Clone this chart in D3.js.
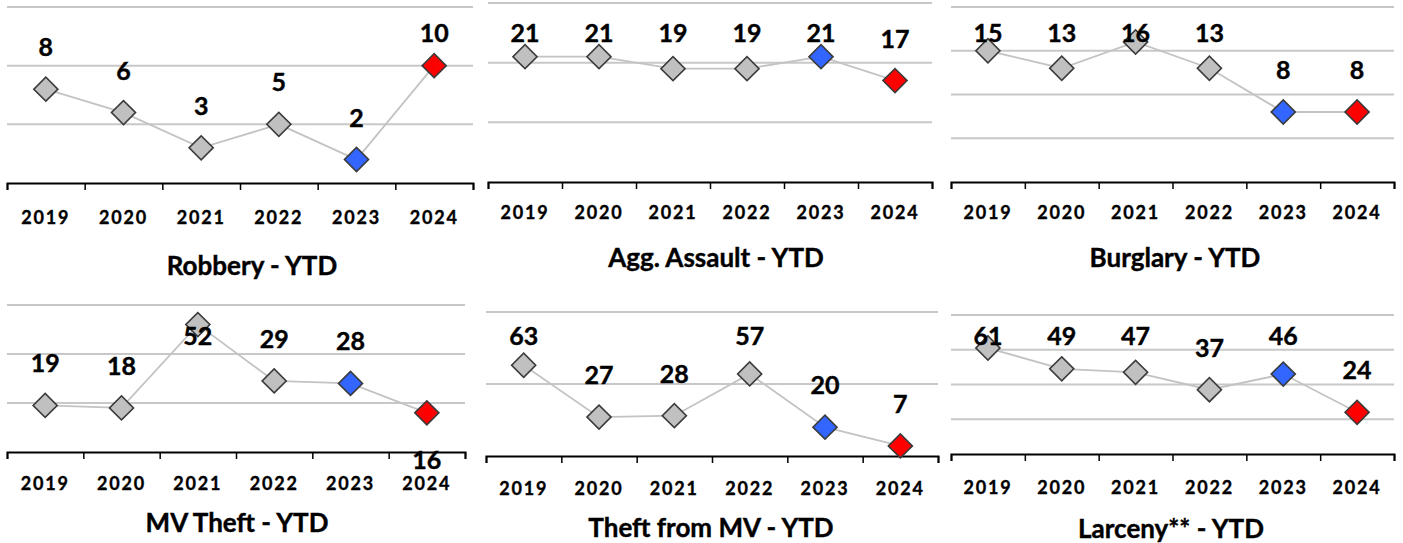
<!DOCTYPE html>
<html>
<head>
<meta charset="utf-8">
<script src="https://cdn.jsdelivr.net/npm/d3@7"></script>
<style>
  html, body { margin: 0; padding: 0; background: #fff; }
  svg { display: block; }
  .year { font-family: Lato, "Open Sans", sans-serif; font-weight: 700; font-size: 18px; letter-spacing: 1.8px; stroke: #000; stroke-width: 0.35px; }
  .val { font-family: Lato, "Open Sans", sans-serif; font-weight: 700; font-size: 25px; stroke: #000; stroke-width: 0.4px; }
  .title { font-family: Lato, "Open Sans", sans-serif; font-weight: 700; font-size: 26px; stroke: #000; stroke-width: 0.4px; }
</style>
</head>
<body>
<script>
(function () {
  'use strict';

  var years = ['2019', '2020', '2021', '2022', '2023', '2024'];

  var titles = ['Robbery - YTD', 'Agg. Assault - YTD', 'Burglary - YTD',
    'MV Theft - YTD', 'Theft from MV - YTD', 'Larceny** - YTD'];

  var robbery = [8, 6, 3, 5, 2, 10];
  var aggAssault = [21, 21, 19, 19, 21, 17];
  var burglary = [15, 13, 16, 13, 8, 8];
  var mvTheft = [19, 18, 52, 29, 28, 16];
  var theftFromMv = [63, 27, 28, 57, 20, 7];
  var larceny = [61, 49, 47, 37, 46, 24];

  var yMax = [15, 30, 20, 60, 100, 80];
  var yStep = [5, 10, 5, 20, 50, 20];

  var series = [robbery, aggAssault, burglary, mvTheft, theftFromMv, larceny];

  // panel frames (plot area in page pixels)
  var frames = [
    { x0: 7, x1: 473, top: 7, axis: 183, yearDy: 35, titleX: 252, titleY: 265, labelMin: 32 },
    { x0: 488, x1: 932, top: 3, axis: 182, yearDy: 31, titleX: 716, titleY: 257, labelMin: 32 },
    { x0: 951, x1: 1394, top: 7, axis: 182, yearDy: 31, titleX: 1175, titleY: 257, labelMin: 32 },
    { x0: 7, x1: 465, top: 305, axis: 452, yearDy: 32, titleX: 237, titleY: 522, labelMin: 335 },
    { x0: 486, x1: 938, top: 312, axis: 456, yearDy: 33, titleX: 711, titleY: 527, labelMin: 335 },
    { x0: 951, x1: 1394, top: 315, axis: 454, yearDy: 34, titleX: 1171, titleY: 528, labelMin: 335 }
  ];

  var svgEl = d3.select('body')
    .append('svg')
    .attr('width', 1403)
    .attr('height', 543);

  var diamond = d3.symbol().type(d3.symbolSquare).size(290);

  series.forEach(function (vals, i) {
    drawPanel(vals, i);
  });

  function drawPanel(vals, i) {
    var f = frames[i],
      g = svgEl.append('g'),
      data = vals.map(function (v, j) {
        return { year: years[j], value: v, idx: j };
      });

    var x = d3.scaleBand()
      .domain(years)
      .range([f.x0, f.x1]);

    var y = d3.scaleLinear()
      .domain([0, yMax[i]])
      .range([f.axis, f.top]);

    var edges = d3.scaleLinear()
      .domain([0, years.length])
      .range([f.x0, f.x1]);

    // gridlines
    g.append('g')
      .selectAll('line')
      .data(d3.range(yStep[i], yMax[i] + 0.001, yStep[i]))
      .enter()
      .append('line')
      .attr('x1', f.x0)
      .attr('x2', f.x1)
      .attr('y1', function (d) { return y(d); })
      .attr('y2', function (d) { return y(d); })
      .attr('stroke', '#c8c8c8')
      .attr('stroke-width', 2);

    // axis with ticks on category edges
    var ax = g.append('g')
      .attr('transform', 'translate(0,' + f.axis + ')')
      .call(d3.axisBottom(edges)
        .tickValues(d3.range(0, years.length + 1))
        .tickFormat('')
        .tickSize(7)
        .tickSizeOuter(7));
    ax.select('.domain').attr('stroke', '#000').attr('stroke-width', 2);
    ax.selectAll('.tick line').attr('stroke', '#000').attr('stroke-width', 1.5);

    // year labels
    g.append('g')
      .attr('transform', 'translate(0,' + f.axis + ')')
      .call(d3.axisBottom(x).tickSize(0).tickPadding(0))
      .call(function (s) {
        s.select('.domain').remove();
        s.attr('font-size', null).attr('font-family', null);
        s.selectAll('.tick text')
          .attr('class', 'year')
          .attr('fill', '#000')
          .attr('y', f.yearDy)
          .attr('dy', '0.35em');
      });

    // connecting line
    var line = d3.line()
      .x(function (d) { return x(d.year) + x.bandwidth() / 2; })
      .y(function (d) { return y(d.value); });

    g.append('path')
      .datum(data)
      .attr('d', line)
      .attr('fill', 'none')
      .attr('stroke', '#c3c3c3')
      .attr('stroke-width', 1.8);

    // markers
    g.selectAll('path.mark')
      .data(data)
      .enter()
      .append('path')
      .attr('class', 'mark')
      .attr('d', diamond)
      .attr('transform', function (d) {
        return 'translate(' + (x(d.year) + x.bandwidth() / 2) + ',' + y(d.value) + ') rotate(45)';
      })
      .attr('fill', function (d) {
        if (d.idx === years.length - 1) return '#ff0000';
        if (d.idx === years.length - 2) return '#3366ff';
        return '#c0c0c0';
      })
      .attr('stroke', '#3a3a3a')
      .attr('stroke-width', 1.6);

    // value labels
    g.selectAll('text.val')
      .data(data)
      .enter()
      .append('text')
      .attr('class', 'val')
      .attr('text-anchor', 'middle')
      .attr('dominant-baseline', 'central')
      .attr('x', function (d) { return x(d.year) + x.bandwidth() / 2; })
      .attr('y', function (d) {
        var py = y(d.value);
        // MV Theft 2024 label sits below its marker in the original
        if (i === 3 && d.idx === years.length - 1) return py + 46;
        return Math.max(py - 43, f.labelMin);
      })
      .text(function (d) { return d.value; });

    // title
    g.append('text')
      .attr('class', 'title')
      .attr('text-anchor', 'middle')
      .attr('dominant-baseline', 'central')
      .attr('x', f.titleX)
      .attr('y', f.titleY)
      .text(titles[i]);
  }
}());
</script>
</body>
</html>
